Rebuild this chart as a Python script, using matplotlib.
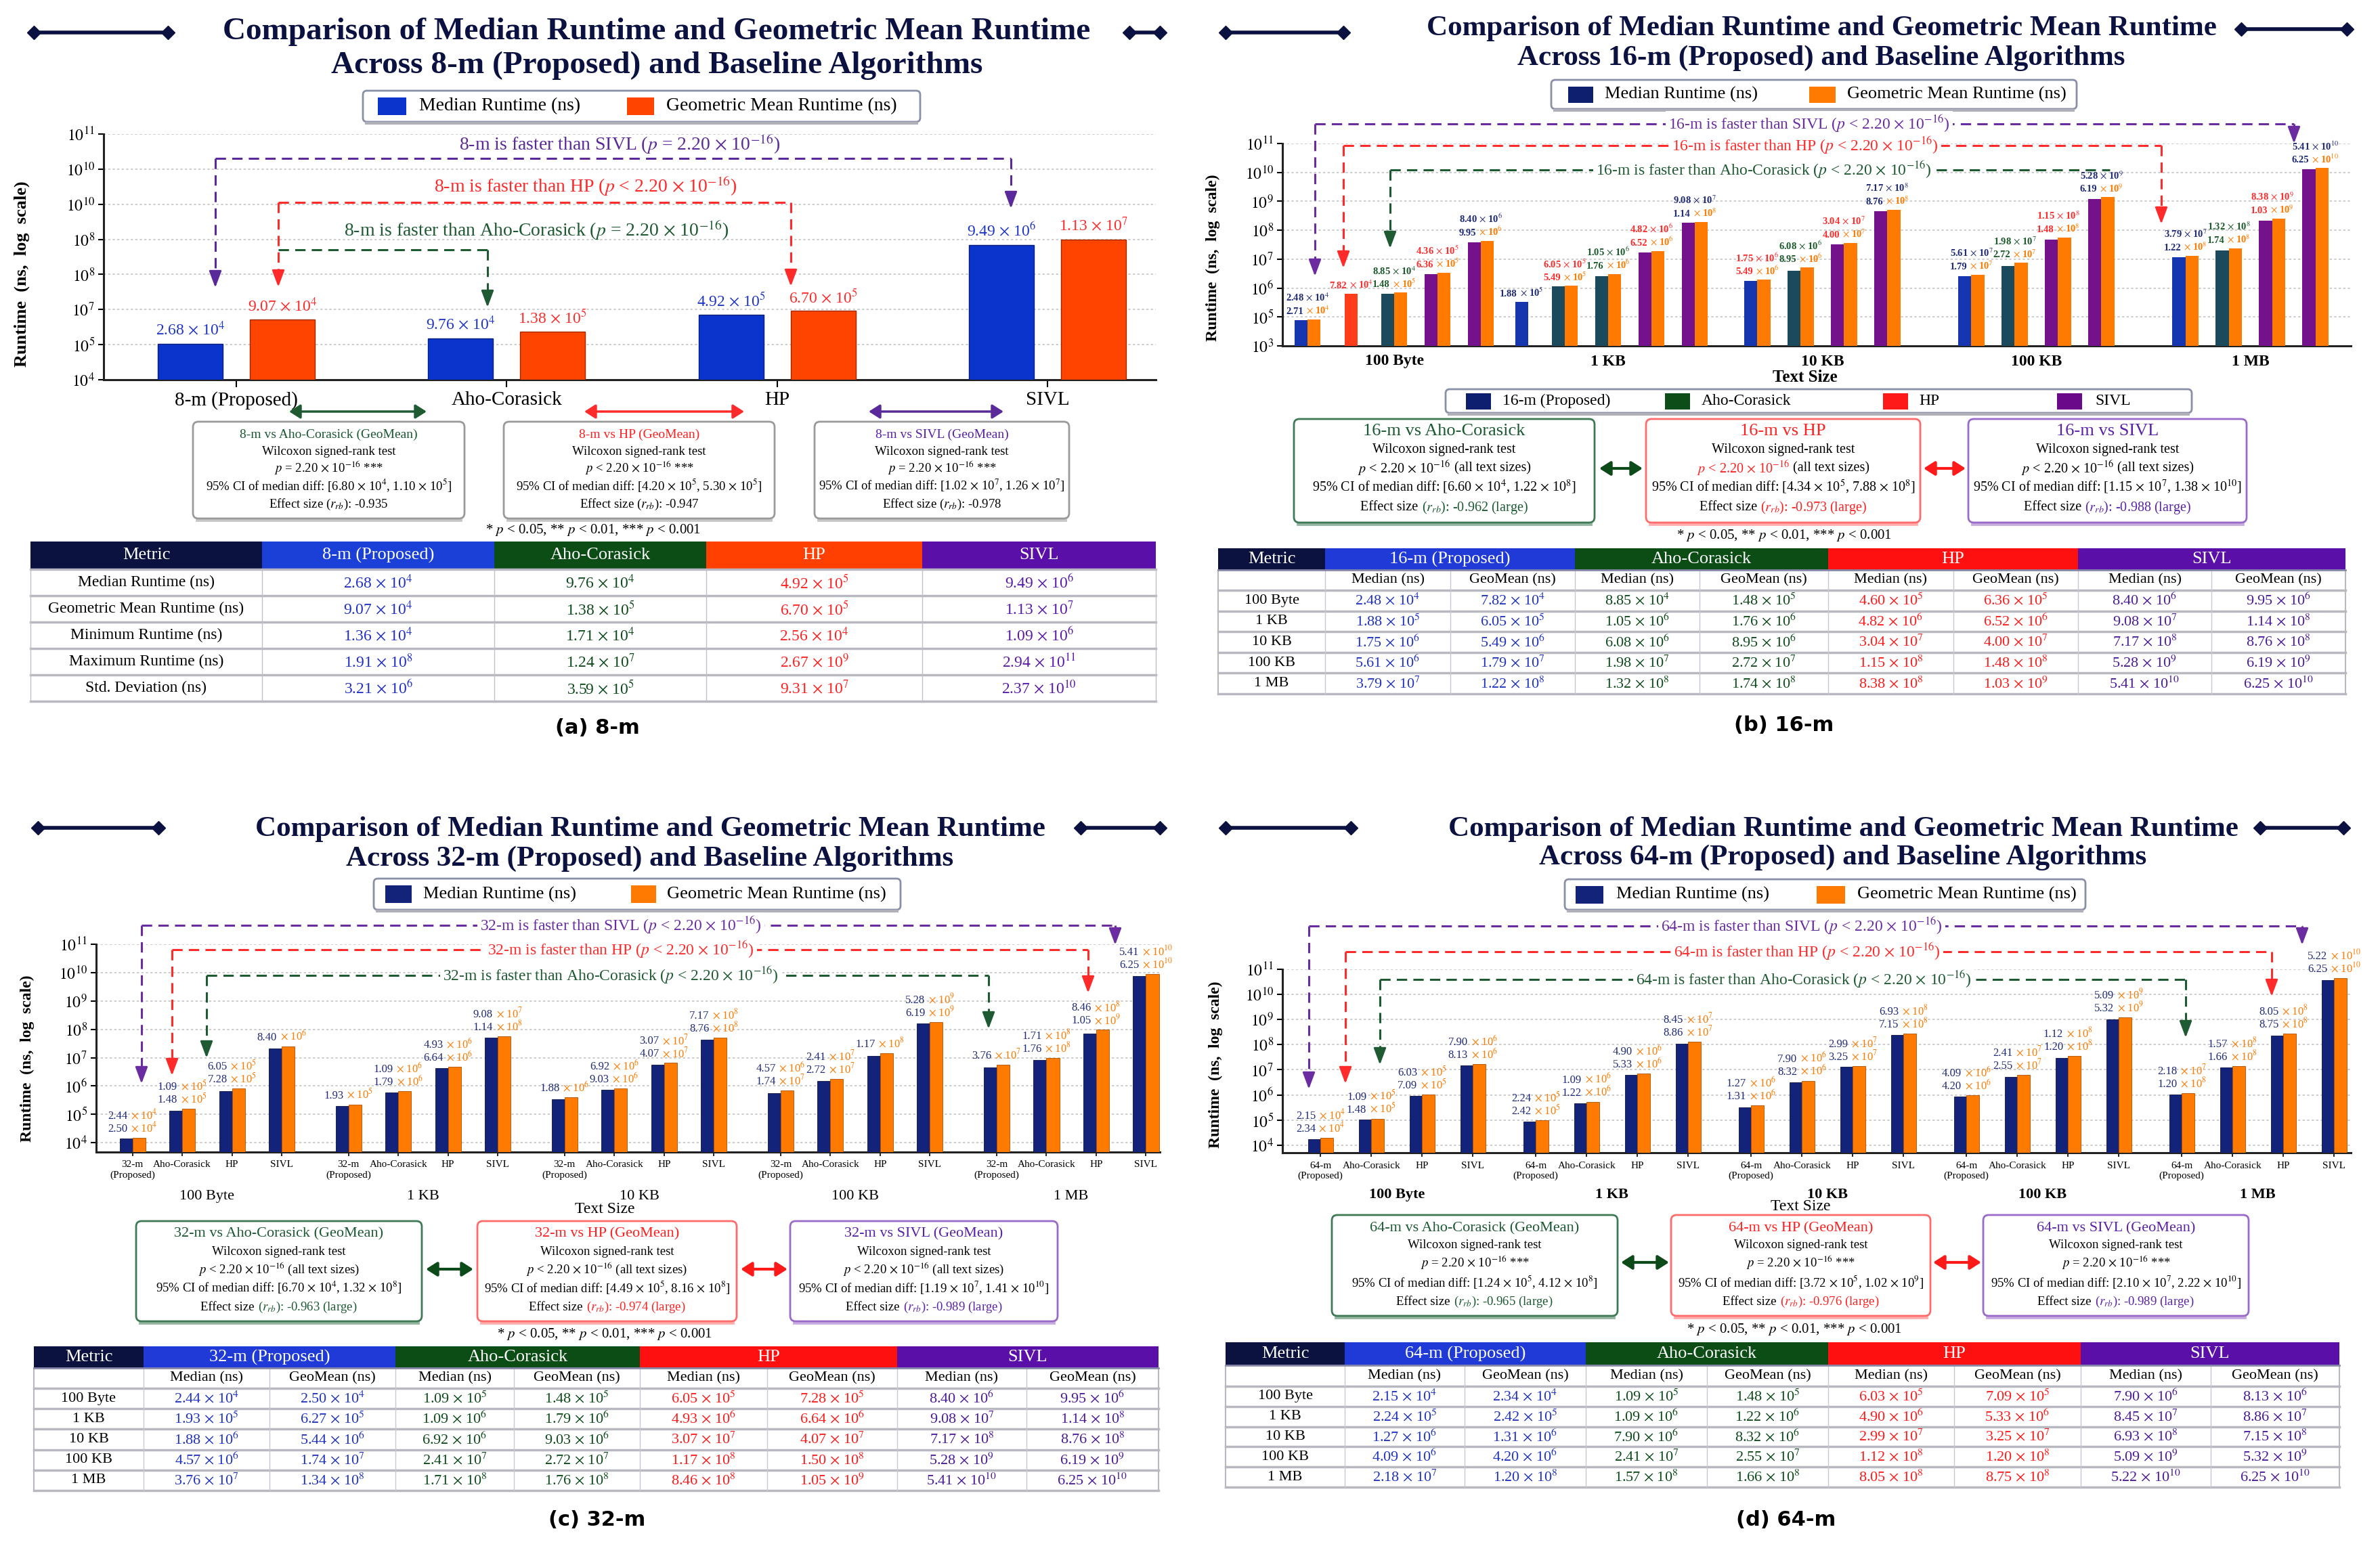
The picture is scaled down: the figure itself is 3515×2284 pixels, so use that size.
import math
import numpy as np
import matplotlib
matplotlib.use('Agg')
import matplotlib.pyplot as plt
from matplotlib.patches import Rectangle, FancyBboxPatch

plt.rcParams['font.family'] = ['Liberation Serif', 'DejaVu Serif']
plt.rcParams['mathtext.fontset'] = 'stix'

W, H = 3515, 2284

# ======================= DATA =======================
baselines = ['Aho-Corasick', 'HP', 'SIVL']
text_sizes = ['100 Byte', '1 KB', '10 KB', '100 KB', '1 MB']

# ---- (a) 8-m ----
a_categories = ['8-m (Proposed)', 'Aho-Corasick', 'HP', 'SIVL']
a_metrics = ['Median Runtime (ns)', 'Geometric Mean Runtime (ns)', 'Minimum Runtime (ns)',
             'Maximum Runtime (ns)', 'Std. Deviation (ns)']
a_median = [2.68e4, 9.76e4, 4.92e5, 9.49e6]
a_geomean = [9.07e4, 1.38e5, 6.70e5, 1.13e7]
a_minimum = [1.36e4, 1.71e4, 2.56e4, 1.09e6]
a_maximum = [1.91e8, 1.24e7, 2.67e9, 2.94e11]
a_stddev = [3.21e6, 3.59e5, 9.31e7, 2.37e10]
# bar tops as drawn, in gridline steps above the lowest gridline
a_median_bar = [1.03, 1.18, 1.86, 3.84]
a_geomean_bar = [1.71, 1.37, 1.96, 4.00]
a_ytick_exp = [4, 5, 7, 8, 8, 10, 10, 11]
a_p_sign = ['=', '<', '=']
a_ci = [(6.80e4, 1.10e5), (4.20e5, 5.30e5), (1.02e7, 1.26e7)]
a_effect = [-0.935, -0.947, -0.978]

# ---- (b) 16-m ----
b_prop_median = [2.48e4, 1.88e5, 1.75e6, 5.61e6, 3.79e7]
b_prop_geo = [7.82e4, 6.05e5, 5.49e6, 1.79e7, 1.22e8]
b_aho_median = [8.85e4, 1.05e6, 6.08e6, 1.98e7, 1.32e8]
b_aho_geo = [1.48e5, 1.76e6, 8.95e6, 2.72e7, 1.74e8]
b_hp_median = [4.60e5, 4.82e6, 3.04e7, 1.15e8, 8.38e8]
b_hp_geo = [6.36e5, 6.52e6, 4.00e7, 1.48e8, 1.03e9]
b_sivl_median = [8.40e6, 9.08e7, 7.17e8, 5.28e9, 5.41e10]
b_sivl_geo = [9.95e6, 1.14e8, 8.76e8, 6.19e9, 6.25e10]
b_ci = [(6.60e4, 1.22e8), (4.34e5, 7.88e8), (1.15e7, 1.38e10)]
b_effect = [-0.962, -0.973, -0.988]
b_ytick_exp = [3, 5, 6, 7, 8, 9, 10, 11]
# bars as drawn in the chart (per text size, one entry per bar slot)
b_slot_kind = [[0, 2, 1, 3, 3], [0, 1, 1, 3, 3], [0, 1, 3, 3], [0, 1, 3, 3], [0, 1, 3, 3]]
b_first_bar = [[0.90, 1.81, 1.80, 2.49, 3.59], [1.53, 2.05, 2.40, 3.22, 4.26],
               [2.24, 2.60, 3.52, 4.67], [2.40, 2.76, 3.68, 5.09], [3.07, 3.31, 4.34, 6.10]]
b_orange_bar = [[0.92, None, 1.84, 2.54, 3.64], [None, 2.08, 2.49, 3.28, 4.29],
                [2.29, 2.71, 3.57, 4.71], [2.46, 2.87, 3.75, 5.14], [3.12, 3.38, 4.40, 6.15]]
b_label_upper = [[2.48e4, None, 8.85e4, 4.36e5, 8.40e6], [None, 6.05e5, 1.05e6, 4.82e6, 9.08e7],
                 [1.75e6, 6.08e6, 3.04e7, 7.17e8], [5.61e7, 1.98e7, 1.15e8, 5.28e9],
                 [3.79e7, 1.32e8, 8.38e9, 5.41e10]]
b_label_lower = [[2.71e4, 7.82e4, 1.48e5, 6.36e5, 9.95e6], [1.88e5, 5.49e5, 1.76e6, 6.52e6, 1.14e8],
                 [5.49e6, 8.95e6, 4.00e7, 8.76e8], [1.79e7, 2.72e7, 1.48e8, 6.19e9],
                 [1.22e8, 1.74e8, 1.03e9, 6.25e10]]
b_label_tone = [[0, 2, 1, 2, 0], [0, 2, 1, 2, 0], [2, 1, 2, 0], [0, 1, 2, 0], [0, 1, 2, 0]]

# ---- (c) 32-m ----
c_prop_median = [2.44e4, 1.93e5, 1.88e6, 4.57e6, 3.76e7]
c_prop_geo = [2.50e4, 6.27e5, 5.44e6, 1.74e7, 1.34e8]
c_aho_median = [1.09e5, 1.09e6, 6.92e6, 2.41e7, 1.71e8]
c_aho_geo = [1.48e5, 1.79e6, 9.03e6, 2.72e7, 1.76e8]
c_hp_median = [6.05e5, 4.93e6, 3.07e7, 1.17e8, 8.46e8]
c_hp_geo = [7.28e5, 6.64e6, 4.07e7, 1.50e8, 1.05e9]
c_sivl_median = [8.40e6, 9.08e7, 7.17e8, 5.28e9, 5.41e10]
c_sivl_geo = [9.95e6, 1.14e8, 8.76e8, 6.19e9, 6.25e10]
c_ci = [(6.70e4, 1.32e8), (4.49e5, 8.16e8), (1.19e7, 1.41e10)]
c_effect = [-0.963, -0.974, -0.989]
c_median_bar = [[0.14, 1.13, 1.81, 3.33], [1.29, 1.76, 2.62, 3.70], [1.54, 1.86, 2.75, 3.63],
                [1.75, 2.17, 3.07, 4.20], [2.66, 2.92, 3.85, 5.87]]
c_geo_bar = [[0.17, 1.20, 1.91, 3.40], [1.35, 1.82, 2.67, 3.75], [1.60, 1.91, 2.81, 3.70],
             [1.84, 2.25, 3.16, 4.26], [2.74, 2.99, 3.98, 5.94]]
c_geo_label_shown = [[1, 1, 1, 0], [0, 1, 1, 1], [0, 1, 1, 1], [1, 1, 0, 1], [0, 1, 1, 1]]

# ---- (d) 64-m ----
d_prop_median = [2.15e4, 2.24e5, 1.27e6, 4.09e6, 2.18e7]
d_prop_geo = [2.34e4, 2.42e5, 1.31e6, 4.20e6, 1.20e8]
d_aho_median = [1.09e5, 1.09e6, 7.90e6, 2.41e7, 1.57e8]
d_aho_geo = [1.48e5, 1.22e6, 8.32e6, 2.55e7, 1.66e8]
d_hp_median = [6.03e5, 4.90e6, 2.99e7, 1.12e8, 8.05e8]
d_hp_geo = [7.09e5, 5.33e6, 3.25e7, 1.20e8, 8.75e8]
d_sivl_median = [7.90e6, 8.45e7, 6.93e8, 5.09e9, 5.22e10]
d_sivl_geo = [8.13e6, 8.86e7, 7.15e8, 5.32e9, 6.25e10]
d_ci = [(1.24e5, 4.12e8), (3.72e5, 1.02e9), (2.10e7, 2.22e10)]
d_effect = [-0.965, -0.976, -0.989]
d_median_bar = [[0.24, 1.01, 1.96, 3.17], [0.94, 1.67, 2.79, 4.05], [1.51, 2.50, 3.11, 4.39],
                [1.94, 2.72, 3.48, 5.01], [2.02, 3.09, 4.37, 6.58]]
d_geo_bar = [[0.29, 1.06, 2.02, 3.22], [0.98, 1.73, 2.85, 4.13], [1.58, 2.56, 3.14, 4.45],
             [1.99, 2.79, 3.55, 5.08], [2.06, 3.16, 4.44, 6.66]]
cd_ytick_exp = [4, 5, 6, 7, 8, 9, 10, 11]

# ======================= STYLE =======================
NAVY = '#0b1140'
A_BLUE, A_ORANGE = '#0a34cc', '#ff4400'
BAR_NAVY, ORANGE = '#14237a', '#ff7a00'
ALG_T = ['#1a5a30', '#ff2020', '#5a22a8']
PROP_T = '#1f33c0'
TONE = ['#1e2a78', '#1a5a2a', '#ff2a2a']
B_KIND = ['#1636b0', '#1b4a5c', '#ff3d1a', '#74128c']
HDR = ['#0b1240', '#1f3ad6', '#0b4d14', '#ff1010', '#5a0fa8']
HDR_A = ['#0b1240', '#1a40d8', '#0b4d14', '#ff4000', '#5a0fa8']
VAL_COL = [PROP_T, '#0d4a1a', '#ff1a1a', '#4a1a9a']

fig = plt.figure(figsize=(W / 100, H / 100), dpi=100)
fig.patch.set_facecolor('white')
R = fig.canvas.get_renderer()


def px_axes(x0, y0, x1, y1):
    return fig.add_axes([x0 / W, 1 - y1 / H, (x1 - x0) / W, (y1 - y0) / H])


ov = fig.add_axes([0, 0, 1, 1], zorder=10)
ov.set_xlim(0, W)
ov.set_ylim(H, 0)
ov.axis('off')
ov.patch.set_alpha(0)


def sci_parts(v):
    e = int(math.floor(math.log10(v)))
    m = round(v / 10 ** e, 2)
    if m >= 10:
        m, e = round(m / 10, 2), e + 1
    return f'{m:.2f}', e


def sci(v):
    m, e = sci_parts(v)
    return rf'{m} $\times$ 10$^{{{e}}}$'


def mtext(ax, x, y, parts, size, dy=0, va='center', weight='normal', gap=None):
    objs = []
    for s, c in parts:
        o = ax.annotate(s, (x, y), xycoords='data', xytext=(0, dy), textcoords='offset pixels',
                        color=c, fontsize=size, fontweight=weight, ha='left', va=va,
                        annotation_clip=False, zorder=6)
        objs.append(o)
    if gap is None:
        gap = 0.27 * size * 100 / 72
    ws = [o.get_window_extent(R).width for o in objs]
    tot = sum(ws) + gap * (len(objs) - 1)
    cur = -tot / 2
    for o, w in zip(objs, ws):
        o.xyann = (cur, dy)
        cur += w + gap
    return objs


def style_axes(ax, ylo, yhi, exps, ysize=17):
    ax.set_ylim(ylo, yhi)
    ax.set_yticks(range(len(exps)), [rf'$10^{{{e}}}$' for e in exps], fontsize=ysize)
    ax.grid(axis='y', color='#c4c4c4', linestyle=(0, (2, 2)), linewidth=1.2)
    ax.set_axisbelow(True)
    for s in ['top', 'right']:
        ax.spines[s].set_visible(False)
    for s in ['left', 'bottom']:
        ax.spines[s].set_linewidth(2.2)
        ax.spines[s].set_color('#222222')
    ax.tick_params(axis='y', length=6, width=1.5)
    ax.set_facecolor('none')


def title(cx, y1, y2, l1, l2, size):
    ov.text(cx, y1, l1, ha='center', va='center', fontsize=size, fontweight='bold', color=NAVY)
    ov.text(cx, y2, l2, ha='center', va='center', fontsize=size, fontweight='bold', color=NAVY)


def deco(x0, x1, y):
    ov.plot([x0, x1], [y, y], color=NAVY, lw=4, solid_capstyle='butt')
    ov.plot([x0, x1], [y, y], 'D', color=NAVY, ms=10)


def legend_box(x0, y0, x1, y1, items, size, ph=26):
    ov.add_patch(FancyBboxPatch((x0, y0), x1 - x0, y1 - y0, boxstyle='round,pad=0,rounding_size=6',
                                fc='white', ec='#8a8fa8', lw=2))
    ov.plot([x0 + 5, x1 - 5], [y1 + 2, y1 + 2], color='#b0b0b8', lw=3)
    yc = (y0 + y1) / 2
    for p0, p1, color, tx, label in items:
        ov.add_patch(Rectangle((p0, yc - ph / 2), p1 - p0, ph, fc=color, ec='none'))
        ov.text(tx, yc, label, ha='left', va='center', fontsize=size)


def bracket(color, y, x0, x1, e0, e1, label, lx, ly, size, bg=True):
    ls = (0, (5, 3))
    ov.plot([x0, x1], [y, y], color=color, lw=2.2, ls=ls)
    for x, e in [(x0, e0), (x1, e1)]:
        if e is None:
            continue
        ov.plot([x, x], [y, e - 12], color=color, lw=2.2, ls=ls)
        ov.annotate('', xy=(x, e), xytext=(x, e - 14),
                    arrowprops=dict(arrowstyle='-|>,head_length=0.75,head_width=0.28', color=color,
                                    lw=2, shrinkA=0, shrinkB=0, mutation_scale=20))
    ov.text(lx, ly, label, ha='center', va='center', fontsize=size, color=color, zorder=5,
            bbox=dict(fc='white', ec='none', pad=3) if bg else None)


def dbl_arrow(x0, x1, y, color, lw=3.0, ms=18):
    ov.annotate('', xy=(x1, y), xytext=(x0, y),
                arrowprops=dict(arrowstyle='<|-|>,head_length=0.55,head_width=0.35', color=color, lw=lw,
                                shrinkA=0, shrinkB=0, mutation_scale=ms))


def stat_box(x0, x1, y0, y1, edge, lines, ys, size, tsize):
    ov.add_patch(FancyBboxPatch((x0, y0), x1 - x0, y1 - y0, boxstyle='round,pad=0,rounding_size=8',
                                fc='white', ec=edge, lw=2))
    ov.plot([x0 + 6, x1 - 6], [y1 + 1.5, y1 + 1.5], color=edge, lw=3.5, alpha=0.55)
    cx = (x0 + x1) / 2
    for i, (parts, y) in enumerate(zip(lines, ys)):
        mtext(ov, cx, y, parts, tsize if i == 0 else size)


def wide_table(cols, y0, y1, y2, y3, prop_label, series, sh=19, ss=16, sv=16):
    spans = [(0, 1, 'Metric'), (1, 3, prop_label), (3, 5, 'Aho-Corasick'), (5, 7, 'HP'), (7, 9, 'SIVL')]
    for k, (a, b, lab) in enumerate(spans):
        ov.add_patch(Rectangle((cols[a], y0), cols[b] - cols[a], y1 - y0, fc=HDR[k], ec='none'))
        ov.text((cols[a] + cols[b]) / 2, (y0 + y1) / 2, lab, color='white', ha='center', va='center',
                fontsize=sh)
    for j in range(1, 9):
        ov.text((cols[j] + cols[j + 1]) / 2, (y1 + y2) / 2, 'Median (ns)' if j % 2 else 'GeoMean (ns)',
                ha='center', va='center', fontsize=ss)
    rh = (y3 - y2) / 5
    for i in range(5):
        yc = y2 + rh * (i + 0.5)
        ov.text((cols[0] + cols[1]) / 2, yc, text_sizes[i], ha='center', va='center', fontsize=ss)
        for j in range(8):
            ov.text((cols[j + 1] + cols[j + 2]) / 2, yc, sci(series[j][i]), color=VAL_COL[j // 2],
                    ha='center', va='center', fontsize=sv)
    for yy in [y2] + [y2 + rh * (i + 1) for i in range(5)]:
        ov.plot([cols[0], cols[-1]], [yy, yy], color='#b8b8c0', lw=2.5)
    for xx in cols[1:-1]:
        ov.plot([xx, xx], [y1, y3], color='#c8c8d4', lw=1)
    for xx in [cols[0], cols[-1]]:
        ov.plot([xx, xx], [y1, y3], color='#b8b8c0', lw=1.5)
    ov.plot([cols[0], cols[-1]], [y1, y1], color='#8888aa', lw=2)


def grouped_panel(box, ylo, first, step, xmax, bw, med_bar, geo_bar, med_vals, geo_vals, shown,
                  prop_tick, grp_y, grp_bold, ylab_xy):
    ax = px_axes(*box)
    style_axes(ax, ylo, 7, cd_ytick_exp, ysize=17)
    ax.set_xlim(0, xmax)
    ticks, tlabels = [], []
    for g in range(5):
        for s in range(4):
            xc = first + step * g + s
            h1, h2 = med_bar[g][s], geo_bar[g][s]
            ax.bar(xc - bw / 2, h1 - ylo, bw, bottom=ylo, color=BAR_NAVY, edgecolor='#0a1040', lw=0.6, zorder=3)
            ax.bar(xc + bw / 2, h2 - ylo, bw, bottom=ylo, color=ORANGE, edgecolor='#b05000', lw=0.6, zorder=3)
            top = max(h1, h2)
            m1, e1 = sci_parts(med_vals[s][g])
            if shown[g][s]:
                m2, e2 = sci_parts(geo_vals[s][g])
                mtext(ax, xc, top, [(m2, TONE[0]), (rf'$\times$ 10$^{{{e2}}}$', ORANGE)], 12, dy=5, va='bottom')
                dy1 = 24
            else:
                dy1 = 5
            mtext(ax, xc, top, [(m1, TONE[0]), (rf'$\times$ 10$^{{{e1}}}$', ORANGE)], 12, dy=dy1, va='bottom')
            ticks.append(xc)
            tlabels.append([prop_tick, 'Aho-Corasick', 'HP', 'SIVL'][s])
        ax.text(first + step * g + 1.5, grp_y, text_sizes[g], transform=ax.get_xaxis_transform(),
                ha='center', va='center', fontsize=16, fontweight='bold' if grp_bold else 'normal')
    ax.set_xticks(ticks, tlabels, fontsize=11)
    ax.tick_params(axis='x', length=4, width=1.2, pad=5)
    ax.set_ylabel('Runtime  (ns,  log  scale)', fontsize=17, fontweight='bold')
    ax.yaxis.set_label_coords(*ylab_xy)
    return ax


# ======================= PANEL (a) =======================
deco(50, 248, 48)
deco(1668, 1713, 48)
title(970, 47, 97, 'Comparison of Median Runtime and Geometric Mean Runtime',
      'Across 8-m (Proposed) and Baseline Algorithms', 34)
legend_box(536, 134, 1359, 180, [(558, 600, A_BLUE, 619, 'Median Runtime (ns)'),
                                 (926, 966, A_ORANGE, 984, 'Geometric Mean Runtime (ns)')], 20)
axa = px_axes(153, 198, 1707, 561)
style_axes(axa, 0, 7, a_ytick_exp)
xa = np.arange(len(a_categories))
off, bw = 0.17, 0.24
axa.bar(xa - off, a_median_bar, bw, color=A_BLUE, edgecolor='#0a1f7a', linewidth=1, zorder=3)
axa.bar(xa + off, a_geomean_bar, bw, color=A_ORANGE, edgecolor='#a02800', linewidth=1, zorder=3)
axa.set_xlim(-0.49, 3.40)
axa.set_xticks(xa, a_categories, fontsize=21)
axa.tick_params(axis='x', length=8, width=1.5, pad=4)
for i in range(4):
    axa.annotate(sci(a_median[i]), (xa[i] - off, a_median_bar[i]), xytext=(0, 8), textcoords='offset pixels',
                 ha='center', va='bottom', fontsize=17, color='#1f35c8')
    axa.annotate(sci(a_geomean[i]), (xa[i] + off, a_geomean_bar[i]), xytext=(0, 8), textcoords='offset pixels',
                 ha='center', va='bottom', fontsize=17, color='#ff2a2a')
axa.set_ylabel('Runtime  (ns,  log  scale)', fontsize=19, fontweight='bold')
axa.yaxis.set_label_coords(-0.07, 0.43)

P16 = r'($p$ = 2.20 $\times$ 10$^{-16}$)'
PL16 = r'($p$ < 2.20 $\times$ 10$^{-16}$)'
bracket('#5b2a9a', 234, 318, 1493, 425, 308, '8-m is faster than SIVL ' + P16, 915, 213, 20, bg=False)
bracket('#ff2a2a', 299, 411, 1168, 424, 423, '8-m is faster than HP ' + PL16, 865, 275, 20, bg=False)
bracket('#1e5a32', 369, 411, 720, None, 454, '8-m is faster than Aho-Corasick ' + P16, 792, 340, 20, bg=False)
dbl_arrow(427, 630, 608, '#1e5a32', lw=2.5)
dbl_arrow(863, 1099, 608, '#ff2a2a', lw=2.5)
dbl_arrow(1283, 1482, 608, '#5b2a9a', lw=2.5)

a_boxes = [(285, 686), (744, 1144), (1203, 1579)]
for k in range(3):
    alg, col = baselines[k], ALG_T[k]
    lines = [[(f'8-m vs {alg} (GeoMean)', col)],
             [('Wilcoxon signed-rank test', 'black')],
             [(rf'$p$ {a_p_sign[k]} 2.20 $\times$ 10$^{{-16}}$ ***', 'black')],
             [(f'95% CI of median diff: [{sci(a_ci[k][0])}, {sci(a_ci[k][1])}]', 'black')],
             [(rf'Effect size ($r_{{rb}}$): {a_effect[k]:.3f}', 'black')]]
    stat_box(a_boxes[k][0], a_boxes[k][1], 623, 766, '#9a9a9a', lines, [642, 667, 691, 717, 745], 13.5, 14)
FOOT = r'* $p$ < 0.05, ** $p$ < 0.01, *** $p$ < 0.001'
ov.text(876, 783, FOOT, ha='center', va='center', fontsize=15)

# table (a)
a_cols = [45, 387, 730, 1043, 1362, 1707]
a_head = ['Metric'] + a_categories
for k in range(5):
    ov.add_patch(Rectangle((a_cols[k], 800), a_cols[k + 1] - a_cols[k], 41, fc=HDR_A[k], ec='none'))
    ov.text((a_cols[k] + a_cols[k + 1]) / 2, 820.5, a_head[k], color='white', ha='center', va='center', fontsize=19)
a_rows = [a_median, a_geomean, a_minimum, a_maximum, a_stddev]
a_val_col = ['#1f2fc8', '#0d4a1a', '#ff2020', '#5a1aa8']
for i in range(5):
    yc = 841 + 39 * (i + 0.5)
    ov.text((a_cols[0] + a_cols[1]) / 2, yc, a_metrics[i], ha='center', va='center', fontsize=17)
    for j in range(4):
        ov.text((a_cols[j + 1] + a_cols[j + 2]) / 2, yc, sci(a_rows[i][j]), color=a_val_col[j],
                ha='center', va='center', fontsize=17)
for i in range(6):
    ov.plot([45, 1707], [841 + 39 * i] * 2, color='#b8b8c0', lw=2.5)
for xx in a_cols:
    ov.plot([xx, xx], [841, 1036], color='#c0c0cc', lw=1)
ov.text(882, 1075, '(a) 8-m', fontfamily='DejaVu Sans', fontweight='bold', fontsize=22, ha='center', va='center')

# ======================= PANEL (b) =======================
deco(1810, 1984, 48)
deco(3310, 3466, 43)
title(2690, 42, 86, 'Comparison of Median Runtime and Geometric Mean Runtime',
      'Across 16-m (Proposed) and Baseline Algorithms', 31)
legend_box(2291, 118, 3067, 161, [(2316, 2353, '#0d1f6e', 2370, 'Median Runtime (ns)'),
                                  (2672, 2711, ORANGE, 2728, 'Geometric Mean Runtime (ns)')], 19, ph=24)
axb = px_axes(1894, 212, 3472, 511)
style_axes(axb, 0, 7, b_ytick_exp)
axb.set_xlim(0, 24.66)
b_centers = [2.58 + 4.94 * g for g in range(5)]
for g in range(5):
    kinds = b_slot_kind[g]
    n = len(kinds)
    for s, k in enumerate(kinds):
        xc = b_centers[g] + (s - (n - 1) / 2)
        h1, h2 = b_first_bar[g][s], b_orange_bar[g][s]
        if h2 is None:
            axb.bar(xc, h1, 0.3, color=B_KIND[k], zorder=3)
            top = h1
        else:
            axb.bar(xc - 0.15, h1, 0.3, color=B_KIND[k], zorder=3)
            axb.bar(xc + 0.15, h2, 0.3, color=ORANGE, zorder=3)
            top = max(h1, h2)
        tc = TONE[b_label_tone[g][s]]
        m, e = sci_parts(b_label_lower[g][s])
        mtext(axb, xc, top, [(m, tc), (rf'$\times$ 10$^{{{e}}}$', ORANGE if h2 is not None else tc)],
              10.5, dy=5, va='bottom', weight='bold')
        if b_label_upper[g][s] is not None:
            axb.annotate(sci(b_label_upper[g][s]), (xc, top), xytext=(0, 24), textcoords='offset pixels',
                         ha='center', va='bottom', fontsize=10.5, fontweight='bold', color=tc,
                         annotation_clip=False)
axb.set_xticks(b_centers, text_sizes, fontsize=17, fontweight='bold')
axb.tick_params(axis='x', length=0, pad=9)
axb.set_ylabel('Runtime  (ns,  log  scale)', fontsize=17, fontweight='bold')
axb.yaxis.set_label_coords(-0.058, 0.435)
ov.text(2666, 557, 'Text Size', ha='center', va='center', fontsize=18, fontweight='bold')

bracket('#6a2ca0', 183, 1942, 3388, 408, 212, '16-m is faster than SIVL ' + PL16, 2672, 183, 17)
bracket('#ff2a2a', 215, 1984, 3192, 396, 331, '16-m is faster than HP ' + PL16, 2666, 215, 17)
bracket('#1e5a32', 251, 2053, 3116, 367, None, '16-m is faster than Aho-Corasick ' + PL16, 2605, 251, 17)

legend_box(2135, 575, 3237, 610, [(2165, 2202, '#0d1f6e', 2219, '16-m (Proposed)'),
                                  (2459, 2496, '#0d4d1a', 2513, 'Aho-Corasick'),
                                  (2781, 2818, '#ff1a1a', 2834, 'HP'),
                                  (3038, 3075, '#6a0a8a', 3094, 'SIVL')], 17, ph=24)
EDGES = ['#3d7a55', '#ff6b6b', '#9a6ac8']
b_boxes = [(1911, 2355), (2431, 2836), (2907, 3318)]
for k in range(3):
    alg, col = baselines[k], ALG_T[k]
    lines = [[(f'16-m vs {alg}', col)],
             [('Wilcoxon signed-rank test', 'black')],
             [(r'$p$ < 2.20 $\times$ 10$^{-16}$', col if k == 1 else 'black'), ('(all text sizes)', 'black')],
             [(f'95% CI of median diff: [{sci(b_ci[k][0])}, {sci(b_ci[k][1])}]', 'black')],
             [('Effect size', 'black'), (rf'($r_{{rb}}$): {b_effect[k]:.3f} (large)', col)]]
    stat_box(b_boxes[k][0], b_boxes[k][1], 619, 772, EDGES[k], lines, [637, 665, 692, 719, 750], 14.5, 19)
dbl_arrow(2362, 2426, 692, '#0d4a1a')
dbl_arrow(2841, 2903, 692, '#ff1a1a')
ov.text(2635, 791, FOOT, ha='center', va='center', fontsize=15)
wide_table([1799, 1957, 2142, 2326, 2510, 2700, 2885, 3069, 3266, 3464], 810, 842, 872, 1025,
           '16-m (Proposed)', [b_prop_median, b_prop_geo, b_aho_median, b_aho_geo,
                               b_hp_median, b_hp_geo, b_sivl_median, b_sivl_geo])
ov.text(2635, 1071, '(b) 16-m', fontfamily='DejaVu Sans', fontweight='bold', fontsize=22, ha='center', va='center')

# ======================= PANEL (c) =======================
deco(56, 234, 1223)
deco(1596, 1713, 1223)
title(960, 1225, 1269, 'Comparison of Median Runtime and Geometric Mean Runtime',
      'Across 32-m (Proposed) and Baseline Algorithms', 31)
legend_box(552, 1298, 1330, 1344, [(569, 608, BAR_NAVY, 625, 'Median Runtime (ns)'),
                                   (932, 969, ORANGE, 985, 'Geometric Mean Runtime (ns)')], 19)
c_med_by_alg = [c_prop_median, c_aho_median, c_hp_median, c_sivl_median]
c_geo_by_alg = [c_prop_geo, c_aho_geo, c_hp_geo, c_sivl_geo]
grouped_panel((142, 1395, 1713, 1702), -0.33, 0.73, 4.34, 21.37, 0.26, c_median_bar, c_geo_bar,
              c_med_by_alg, c_geo_by_alg, c_geo_label_shown, '32-m\n(Proposed)', -0.212, False, (-0.058, 0.45))
ov.text(893, 1787, 'Text Size', ha='center', va='center', fontsize=17)
bracket('#6a2ca0', 1367, 209, 1647, 1601, 1396, '32-m is faster than SIVL ' + PL16, 917, 1367, 17)
bracket('#ff2a2a', 1403, 254, 1607, 1589, 1467, '32-m is faster than HP ' + PL16, 917, 1403, 17)
bracket('#1e5a32', 1441, 305, 1460, 1563, 1520, '32-m is faster than Aho-Corasick ' + PL16, 902, 1441, 17)
c_boxes = [(201, 623), (705, 1088), (1167, 1562)]
for k in range(3):
    alg, col = baselines[k], ALG_T[k]
    lines = [[(f'32-m vs {alg} (GeoMean)', col)],
             [('Wilcoxon signed-rank test', 'black')],
             [(r'$p$ < 2.20 $\times$ 10$^{-16}$ (all text sizes)', 'black')],
             [(f'95% CI of median diff: [{sci(c_ci[k][0])}, {sci(c_ci[k][1])}]', 'black')],
             [('Effect size', 'black'), (rf'($r_{{rb}}$): {c_effect[k]:.3f} (large)', col)]]
    stat_box(c_boxes[k][0], c_boxes[k][1], 1804, 1952, EDGES[k], lines, [1823, 1849, 1875, 1902, 1931], 13.5, 16)
dbl_arrow(629, 699, 1875, '#0d4a1a')
dbl_arrow(1094, 1163, 1875, '#ff1a1a')
ov.text(893, 1971, FOOT, ha='center', va='center', fontsize=15)
wide_table([50, 212, 398, 584, 759, 945, 1133, 1325, 1516, 1711], 1989, 2021, 2051, 2202,
           '32-m (Proposed)', [c_prop_median, c_prop_geo, c_aho_median, c_aho_geo,
                               c_hp_median, c_hp_geo, c_sivl_median, c_sivl_geo])
ov.text(882, 2245, '(c) 32-m', fontfamily='DejaVu Sans', fontweight='bold', fontsize=22, ha='center', va='center')

# ======================= PANEL (d) =======================
deco(1810, 1995, 1223)
deco(3338, 3461, 1223)
title(2722, 1225, 1267, 'Comparison of Median Runtime and Geometric Mean Runtime',
      'Across 64-m (Proposed) and Baseline Algorithms', 31)
legend_box(2311, 1299, 3080, 1344, [(2327, 2368, BAR_NAVY, 2387, 'Median Runtime (ns)'),
                                    (2683, 2725, ORANGE, 2743, 'Geometric Mean Runtime (ns)')], 19)
d_med_by_alg = [d_prop_median, d_aho_median, d_hp_median, d_sivl_median]
d_geo_by_alg = [d_prop_geo, d_aho_geo, d_hp_geo, d_sivl_geo]
grouped_panel((1894, 1432, 3472, 1703), -0.30, 0.75, 4.24, 21.04, 0.25, d_median_bar, d_geo_bar,
              d_med_by_alg, d_geo_by_alg, [[1] * 4] * 5, '64-m\n(Proposed)', -0.229, True, (-0.056, 0.48))
ov.text(2659, 1782, 'Text Size', ha='center', va='center', fontsize=17)
bracket('#6a2ca0', 1368, 1933, 3400, 1609, 1396, '64-m is faster than SIVL ' + PL16, 2661, 1368, 17)
bracket('#ff2a2a', 1406, 1987, 3355, 1601, 1472, '64-m is faster than HP ' + PL16, 2669, 1406, 17)
bracket('#1e5a32', 1447, 2038, 3228, 1573, 1533, '64-m is faster than Aho-Corasick ' + PL16, 2664, 1447, 17)
d_boxes = [(1967, 2389), (2468, 2851), (2929, 3321)]
for k in range(3):
    alg, col = baselines[k], ALG_T[k]
    lines = [[(f'64-m vs {alg} (GeoMean)', col)],
             [('Wilcoxon signed-rank test', 'black')],
             [(r'$p$ = 2.20 $\times$ 10$^{-16}$ ***', 'black')],
             [(f'95% CI of median diff: [{sci(d_ci[k][0])}, {sci(d_ci[k][1])}]', 'black')],
             [('Effect size', 'black'), (rf'($r_{{rb}}$): {d_effect[k]:.3f} (large)', col)]]
    stat_box(d_boxes[k][0], d_boxes[k][1], 1795, 1944, EDGES[k], lines, [1815, 1840, 1865, 1894, 1923], 13.5, 16)
dbl_arrow(2394, 2465, 1865, '#0d4a1a')
dbl_arrow(2855, 2926, 1865, '#ff1a1a')
ov.text(2650, 1964, FOOT, ha='center', va='center', fontsize=15)
wide_table([1810, 1986, 2163, 2342, 2521, 2700, 2886, 3073, 3265, 3455], 1983, 2017, 2048, 2197,
           '64-m (Proposed)', [d_prop_median, d_prop_geo, d_aho_median, d_aho_geo,
                               d_hp_median, d_hp_geo, d_sivl_median, d_sivl_geo])
ov.text(2638, 2245, '(d) 64-m', fontfamily='DejaVu Sans', fontweight='bold', fontsize=22, ha='center', va='center')

fig.savefig('out.png', dpi=100, facecolor='white')
